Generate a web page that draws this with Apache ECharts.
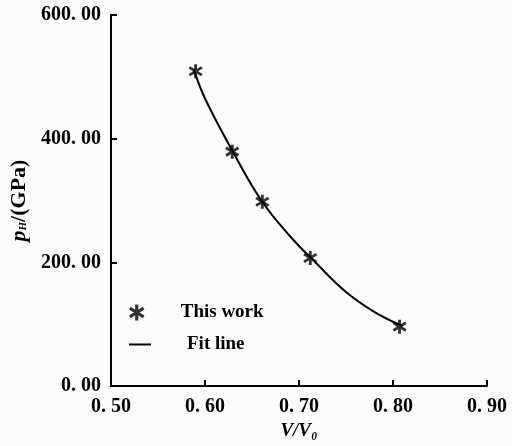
<!DOCTYPE html>
<html><head><meta charset="utf-8">
<script src="https://cdn.jsdelivr.net/npm/echarts@6/dist/echarts.min.js"></script>
<style>html,body{margin:0;padding:0;background:#fcfcfc}#c{width:512px;height:446px}</style>
</head><body><div id="c"></div>
<script>
// measured points (This work)
var workX = [0.590, 0.629, 0.661, 0.712, 0.807];
var workY = [509, 379, 298, 207, 96];
// fit line
var fitX = [0.588, 0.600, 0.630, 0.660, 0.690, 0.720, 0.750, 0.780, 0.810];
var fitY = [512, 465, 378, 300, 243, 196, 152, 120, 97];
var xTicks = [0.5, 0.6, 0.7, 0.8, 0.9];
var yTicks = [0, 200, 400, 600];

var star = 'path://M-0.2,-1L0.2,-1L0.2,1L-0.2,1Z M0.766,-0.727L0.966,-0.381L-0.766,0.727L-0.966,0.381Z M-0.966,-0.381L-0.766,-0.727L0.966,0.381L0.766,0.727Z';
var font = '"Liberation Serif", "DejaVu Serif", serif';

function fmt(v){ var s = v.toFixed(2); return s.replace('.', '. '); }

var chart = echarts.init(document.getElementById('c'));
chart.setOption({
  backgroundColor: '#fcfcfc',
  animation: false,
  grid: {left: 111, right: 25, top: 15, bottom: 53},
  xAxis: {
    type: 'value', min: 0.5, max: 0.9, interval: 0.1,
    name: 'V/V₀', nameLocation: 'middle', nameGap: 36,
    nameTextStyle: {fontFamily: font, fontStyle: 'italic', fontWeight: 'bold', fontSize: 19, color: '#000'},
    axisLine: {lineStyle: {color: '#000', width: 2}},
    axisTick: {inside: true, length: 6, lineStyle: {color: '#000', width: 2}},
    splitLine: {show: false},
    axisLabel: {margin: 11, fontFamily: font, fontWeight: 'bold', fontSize: 20, color: '#000',
      formatter: function(v){ return fmt(v); }}
  },
  yAxis: {
    type: 'value', min: 0, max: 600, interval: 200,
    name: '{i|p}{s|H}{n|/(GPa)}', nameLocation: 'middle', nameGap: 74, nameRotate: 90,
    nameTextStyle: {color: '#000', rich: {
      i: {fontFamily: font, fontStyle: 'italic', fontWeight: 'bold', fontSize: 22, color: '#000'},
      s: {fontFamily: font, fontStyle: 'italic', fontWeight: 'bold', fontSize: 11, color: '#000', padding: [9,0,0,0]},
      n: {fontFamily: font, fontWeight: 'bold', fontSize: 22, color: '#000'}
    }},
    axisLine: {show: true, lineStyle: {color: '#000', width: 2}},
    axisTick: {show: true, inside: true, length: 6, lineStyle: {color: '#000', width: 2}},
    splitLine: {show: false},
    axisLabel: {margin: 10, fontFamily: font, fontWeight: 'bold', fontSize: 20, color: '#000',
      formatter: function(v){ return fmt(v); }}
  },
  legend: [
    {data: [{name: 'This work', icon: star}], left: 124, top: 298, itemWidth: 16, itemHeight: 16,
     textStyle: {fontFamily: font, fontWeight: 'bold', fontSize: 19, color: '#000', padding: [0,0,0,31]}},
    {data: [{name: 'Fit line', icon: 'rect'}], left: 124, top: 330, itemWidth: 22, itemHeight: 2,
     textStyle: {fontFamily: font, fontWeight: 'bold', fontSize: 19, color: '#000', padding: [0,0,0,31]}}
  ],
  series: [
    {name: 'Fit line', type: 'line', smooth: 0.4, showSymbol: false, symbol: 'none',
     itemStyle: {color: '#000'}, lineStyle: {color: '#000', width: 2},
     data: fitX.map(function(x,i){return [x, fitY[i]];})},
    {name: 'This work', type: 'scatter', symbol: star, symbolSize: 14,
     itemStyle: {color: '#000'},
     data: workX.map(function(x,i){return [x, workY[i]];})}
  ]
});
</script></body></html>
